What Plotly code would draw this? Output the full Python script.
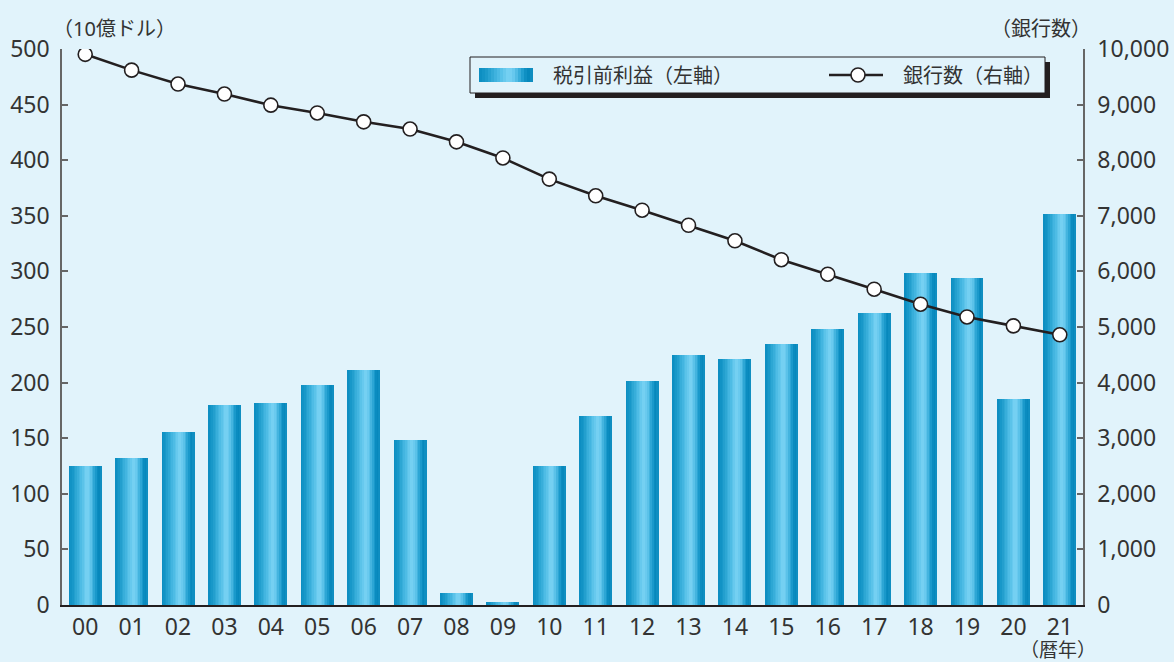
import plotly.graph_objects as go

# ---------------- data ----------------
years = ["00", "01", "02", "03", "04", "05", "06", "07", "08", "09", "10",
         "11", "12", "13", "14", "15", "16", "17", "18", "19", "20", "21"]
profit = [125, 132, 156, 180, 182, 198, 211, 148, 11, 3, 125,
          170, 201, 225, 221, 235, 248, 263, 299, 294, 185, 352]   # 10億ドル
banks = [9904, 9620, 9370, 9190, 8990, 8850, 8690, 8560, 8330, 8040, 7660,
         7360, 7100, 6830, 6550, 6210, 5950, 5680, 5410, 5180, 5020, 4860]
left_ticks = list(range(0, 501, 50))
right_ticks = list(range(0, 10001, 1000))

# ---------------- style ----------------
W, H = 1174, 662
ML, MR, MT, MB = 62, 91, 49, 57
BG = "#e1f3fb"
FONT = "Noto Sans, Noto Sans CJK JP, sans-serif"
TXT = "#333333"
grad = [(0.0, "#0a8cc0"), (0.12, "#1797c8"), (0.35, "#48b9e3"),
        (0.55, "#7ad3f4"), (0.66, "#62c6ec"), (0.80, "#229fd0"),
        (0.90, "#0386ba"), (1.0, "#1390c3")]


def hex2rgb(h):
    h = h.lstrip("#")
    return tuple(int(h[i:i + 2], 16) for i in (0, 2, 4))


def gcol(t):
    for (t0, c0), (t1, c1) in zip(grad[:-1], grad[1:]):
        if t0 <= t <= t1:
            f = (t - t0) / (t1 - t0) if t1 > t0 else 0
            a, b = hex2rgb(c0), hex2rgb(c1)
            return "rgb(%d,%d,%d)" % tuple(round(a[i] + (b[i] - a[i]) * f) for i in range(3))
    return grad[-1][1]


pw = W - ML - MR
ph = H - MT - MB


def px(x):
    return (x - ML) / pw


def py(y):
    return (H - MB - y) / ph


x = list(range(len(years)))
fig = go.Figure()

# gradient bars: nested strips (each from its start to right edge)
bw = 0.71
N = 20
for k in range(N):
    off = -bw / 2 + k * bw / N
    fig.add_trace(go.Bar(
        x=x, y=profit, offset=off, width=bw - k * bw / N,
        marker=dict(color=gcol((k + 0.5) / N), line=dict(width=0)),
        showlegend=False, hoverinfo="skip", yaxis="y"))

fig.add_trace(go.Scatter(
    x=x, y=banks, yaxis="y2", mode="lines+markers",
    line=dict(color="#231f20", width=2.6),
    marker=dict(symbol="circle", size=14, color="white",
                line=dict(color="#231f20", width=1.6)),
    showlegend=False, name="銀行数（右軸）"))

shapes = []
annotations = []

# legend box with shadow
lx0, lx1, ly0, ly1 = 470, 1045, 57, 93
shapes.append(dict(type="rect", xref="paper", yref="paper",
                   x0=px(lx0 + 5), x1=px(lx1 + 5), y0=py(ly0 + 5), y1=py(ly1 + 5),
                   fillcolor="#231f20", line=dict(width=0)))
shapes.append(dict(type="rect", xref="paper", yref="paper",
                   x0=px(lx0), x1=px(lx1), y0=py(ly0), y1=py(ly1),
                   fillcolor=BG, line=dict(color="#231f20", width=1)))
# gradient swatch
sx0, sx1, sy0, sy1 = 479, 533, 68, 82
M = 18
for k in range(M):
    a = sx0 + (sx1 - sx0) * k / M
    b = sx0 + (sx1 - sx0) * (k + 1) / M + 0.6
    shapes.append(dict(type="rect", xref="paper", yref="paper",
                       x0=px(a), x1=px(min(b, sx1)), y0=py(sy0), y1=py(sy1),
                       fillcolor=gcol((k + 0.5) / M), line=dict(width=0)))
# line swatch
shapes.append(dict(type="line", xref="paper", yref="paper",
                   x0=px(829), x1=px(883), y0=py(75), y1=py(75),
                   line=dict(color="#231f20", width=2.6)))
shapes.append(dict(type="circle", xref="paper", yref="paper",
                   x0=px(851), x1=px(865), y0=py(68), y1=py(82),
                   fillcolor="white", line=dict(color="#231f20", width=1.6)))
annotations.append(dict(text="税引前利益（左軸）", xref="paper", yref="paper",
                        x=px(551), y=py(75), xanchor="left", yanchor="middle",
                        showarrow=False, font=dict(size=20, color=TXT, family=FONT)))
annotations.append(dict(text="銀行数（右軸）", xref="paper", yref="paper",
                        x=px(901), y=py(75), xanchor="left", yanchor="middle",
                        showarrow=False, font=dict(size=20, color=TXT, family=FONT)))

# axis titles
annotations.append(dict(text="（10億ドル）", xref="paper", yref="paper",
                        x=px(114), y=py(28), xanchor="center", yanchor="middle",
                        showarrow=False, font=dict(size=20, color=TXT, family=FONT)))
annotations.append(dict(text="（銀行数）", xref="paper", yref="paper",
                        x=px(1041), y=py(28), xanchor="center", yanchor="middle",
                        showarrow=False, font=dict(size=20, color=TXT, family=FONT)))
annotations.append(dict(text="（暦年）", xref="paper", yref="paper",
                        x=px(1058), y=py(650), xanchor="center", yanchor="middle",
                        showarrow=False, font=dict(size=19, color=TXT, family=FONT)))

fig.update_layout(
    width=W, height=H,
    margin=dict(l=ML, r=MR, t=MT, b=MB, autoexpand=False),
    paper_bgcolor=BG, plot_bgcolor=BG,
    barmode="overlay", bargap=0,
    font=dict(family=FONT, size=23, color=TXT),
    showlegend=False,
    shapes=shapes, annotations=annotations,
    xaxis=dict(range=[-0.5, len(years) - 0.5], tickmode="array", tickvals=x,
               ticktext=years, showline=True, linecolor="#231f20", linewidth=2,
               ticks="", showgrid=False, zeroline=False, automargin=False,
               tickfont=dict(size=23, color=TXT), ticklabelstandoff=0),
    yaxis=dict(range=[0, 500], tickmode="array", tickvals=left_ticks,
               showline=True, linecolor="#666666", linewidth=1.5,
               ticks="inside", ticklen=6, tickcolor="#666666", tickwidth=1.5,
               showgrid=False, zeroline=False, automargin=False,
               tickfont=dict(size=23, color=TXT), ticklabelstandoff=6),
    yaxis2=dict(range=[0, 10000], overlaying="y", side="right",
                tickmode="array", tickvals=right_ticks, tickformat=",",
                showline=True, linecolor="#666666", linewidth=1.5,
                ticks="inside", ticklen=6, tickcolor="#666666", tickwidth=1.5,
                showgrid=False, zeroline=False, automargin=False,
                tickfont=dict(size=23, color=TXT), ticklabelstandoff=8),
)

fig.write_html("out.html")
